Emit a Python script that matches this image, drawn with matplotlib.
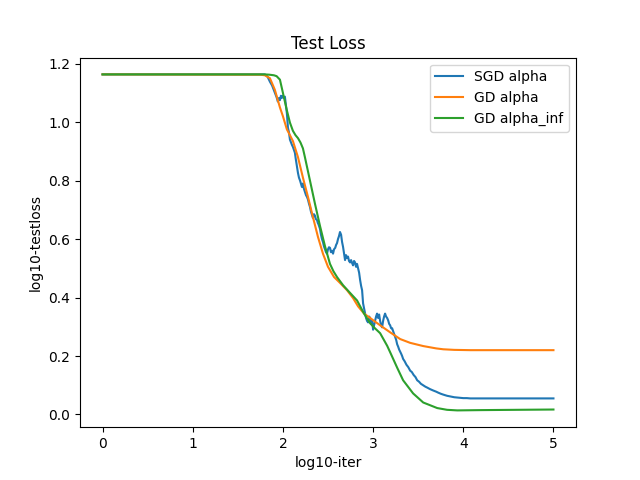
import matplotlib
matplotlib.use("Agg")
import matplotlib.pyplot as plt
import numpy as np

# values
sgd_x = [0.0, 1.8, 1.83, 1.856, 1.88, 1.911, 1.93, 1.944, 1.955, 1.967, 1.978, 1.989,
         2.0, 2.011, 2.022, 2.033, 2.044, 2.056, 2.067, 2.078, 2.09, 2.1, 2.111, 2.122,
         2.133, 2.142, 2.15, 2.158, 2.167, 2.178, 2.19, 2.2, 2.211, 2.222, 2.233,
         2.245, 2.256, 2.267, 2.278, 2.29, 2.3, 2.31, 2.315, 2.325, 2.333, 2.344,
         2.355, 2.366, 2.378, 2.387, 2.395, 2.403, 2.411, 2.422, 2.433, 2.444, 2.455,
         2.467, 2.478, 2.489, 2.5, 2.511, 2.522, 2.533, 2.545, 2.556, 2.567, 2.58,
         2.59, 2.6, 2.611, 2.622, 2.633, 2.645, 2.656, 2.667, 2.678, 2.689, 2.7,
         2.711, 2.722, 2.733, 2.745, 2.756, 2.767, 2.778, 2.789, 2.8, 2.811, 2.822,
         2.833, 2.845, 2.856, 2.867, 2.878, 2.889, 2.9, 2.911, 2.922, 2.933, 2.944,
         2.956, 2.967, 2.978, 2.989, 3.0, 3.011, 3.022, 3.033, 3.044, 3.056, 3.067,
         3.078, 3.089, 3.1, 3.111, 3.122, 3.133, 3.144, 3.156, 3.167, 3.178, 3.189,
         3.2, 3.211, 3.222, 3.233, 3.244, 3.256, 3.267, 3.278, 3.289, 3.3, 3.311,
         3.322, 3.333, 3.35, 3.37, 3.39, 3.411, 3.43, 3.45, 3.47, 3.489, 3.51, 3.53,
         3.556, 3.58, 3.6, 3.63, 3.667, 3.7, 3.72, 3.75, 3.778, 3.82, 3.85, 3.9,
         3.933, 3.97, 4.0, 4.04, 4.078, 4.15, 4.3, 4.5, 4.6, 5.0]
sgd_y = [1.163, 1.163, 1.155, 1.138, 1.125, 1.10, 1.085, 1.07, 1.082, 1.075, 1.09, 1.083,
         1.09, 1.082, 1.087, 1.06, 1.03, 0.98, 0.965, 0.94, 0.93, 0.922, 0.915, 0.905,
         0.895, 0.875, 0.86, 0.845, 0.826, 0.81, 0.80, 0.79, 0.778, 0.79, 0.772,
         0.76, 0.75, 0.744, 0.735, 0.72, 0.71, 0.695, 0.69, 0.68, 0.672, 0.685,
         0.68, 0.668, 0.665, 0.655, 0.65, 0.642, 0.635, 0.615, 0.60, 0.59, 0.575,
         0.565, 0.555, 0.55, 0.565, 0.572, 0.57, 0.555, 0.56, 0.55, 0.565, 0.57,
         0.58, 0.586, 0.60, 0.61, 0.624, 0.615, 0.59, 0.573, 0.55, 0.528, 0.545,
         0.535, 0.54, 0.525, 0.52, 0.528, 0.518, 0.51, 0.525, 0.52, 0.505, 0.515,
         0.50, 0.485, 0.46, 0.44, 0.425, 0.38, 0.362, 0.346, 0.33, 0.32, 0.315,
         0.335, 0.33, 0.31, 0.322, 0.29, 0.305, 0.32, 0.335, 0.345, 0.33, 0.342,
         0.32, 0.305, 0.298, 0.32, 0.335, 0.345, 0.335, 0.33, 0.322, 0.31, 0.305,
         0.295, 0.295, 0.285, 0.275, 0.264, 0.255, 0.24, 0.232, 0.222, 0.215, 0.208,
         0.2, 0.19, 0.182, 0.17, 0.162, 0.15, 0.145, 0.135, 0.128, 0.117, 0.112, 0.105,
         0.10, 0.095, 0.092, 0.087, 0.082, 0.078, 0.075, 0.071, 0.068, 0.064, 0.062, 0.059,
         0.058, 0.057, 0.056, 0.056, 0.055, 0.055, 0.055, 0.055, 0.055, 0.055]

gd_x = [0.0, 1.75, 1.8, 1.856, 1.911, 1.967, 2.0, 2.044, 2.078, 2.111, 2.167, 2.222,
        2.278, 2.333, 2.389, 2.444, 2.5, 2.567, 2.633, 2.711, 2.778, 2.833, 2.9,
        2.967, 3.078, 3.189, 3.3, 3.411, 3.556, 3.7, 3.778, 3.9, 4.078, 5.0]
gd_y = [1.163, 1.162, 1.16, 1.15, 1.11, 1.05, 1.02, 0.975, 0.955, 0.935, 0.88, 0.81,
        0.744, 0.675, 0.607, 0.55, 0.505, 0.47, 0.45, 0.425, 0.398, 0.37, 0.345,
        0.33, 0.305, 0.281, 0.258, 0.245, 0.234, 0.226, 0.223, 0.221, 0.22, 0.22]

inf_x = [0.0, 1.8, 1.85, 1.9, 1.93, 1.967, 2.0, 2.044, 2.078, 2.111, 2.14, 2.167,
         2.195, 2.222, 2.244, 2.3, 2.356, 2.411, 2.467, 2.522, 2.56, 2.6, 2.667,
         2.744, 2.822, 2.9, 2.967, 3.02, 3.078, 3.156, 3.189, 3.267, 3.333, 3.444,
         3.556, 3.711, 3.82, 3.933, 4.2, 5.0]
inf_y = [1.163, 1.163, 1.162, 1.16, 1.157, 1.145, 1.10, 1.04, 0.998, 0.97, 0.955,
         0.945, 0.93, 0.91, 0.88, 0.80, 0.72, 0.645, 0.575, 0.515, 0.49, 0.47, 0.442,
         0.416, 0.39, 0.345, 0.312, 0.295, 0.278, 0.235, 0.213, 0.16, 0.117, 0.072,
         0.041, 0.022, 0.016, 0.014, 0.015, 0.017]

fig, ax = plt.subplots(figsize=(6.4, 4.8), dpi=100)
ax.plot(sgd_x, sgd_y, label="SGD alpha")
ax.plot(gd_x, gd_y, label="GD alpha")
ax.plot(inf_x, inf_y, label="GD alpha_inf")

plt.title("Test Loss")
plt.xlabel("log10-iter")
plt.ylabel("log10-testloss")
plt.legend(loc="upper right")
plt.savefig("out.png")
